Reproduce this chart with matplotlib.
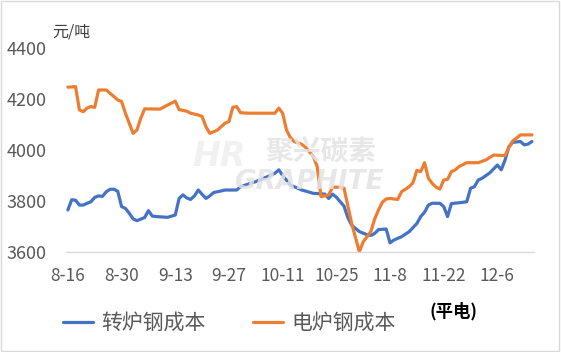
import pandas as pd
import matplotlib
matplotlib.use("Agg")
import matplotlib.pyplot as plt
from matplotlib.patches import Rectangle

plt.rcParams['font.family'] = ['Noto Sans CJK SC', 'DejaVu Sans']

# ---------------------------------
# Data (yuan / ton)
# ---------------------------------
year = "2021"

bof_dates = [
    "08-16", "08-17", "08-18", "08-19", "08-20", "08-21", "08-22", "08-23", "08-24", "08-25",
    "08-26", "08-27", "08-28", "08-29", "08-30", "08-31",
    "09-01", "09-02", "09-03", "09-05", "09-06", "09-07", "09-08", "09-11", "09-13", "09-14",
    "09-15", "09-16", "09-17", "09-18", "09-19", "09-20", "09-21", "09-22", "09-23", "09-26",
    "09-29", "09-30",
    "10-04", "10-07", "10-09", "10-10", "10-11", "10-13", "10-14", "10-16", "10-19", "10-22",
    "10-23", "10-24", "10-25", "10-26", "10-27", "10-28", "10-29", "10-31",
    "11-02", "11-03", "11-04", "11-05", "11-07", "11-08", "11-09", "11-11", "11-13", "11-15",
    "11-16", "11-17", "11-18", "11-19", "11-21", "11-22", "11-23", "11-24", "11-26", "11-28",
    "11-29", "11-30",
    "12-01", "12-02", "12-04", "12-06", "12-07", "12-08", "12-09", "12-10", "12-12", "12-13",
    "12-14", "12-15",
]
bof_cost = [
    3765, 3805, 3803, 3784, 3784, 3791, 3797, 3814, 3820, 3818,
    3836, 3846, 3846, 3838, 3778, 3771,
    3752, 3730, 3723, 3735, 3762, 3741, 3739, 3736, 3745, 3810,
    3824, 3812, 3806, 3820, 3843, 3826, 3810, 3820, 3833, 3843,
    3843, 3856,
    3876, 3895, 3909, 3922, 3900, 3863, 3856, 3843, 3830, 3827,
    3810, 3827, 3815, 3797, 3780, 3735, 3705, 3680,
    3668, 3665, 3673, 3688, 3690, 3636, 3647, 3660, 3680, 3712,
    3739, 3756, 3784, 3791, 3791, 3778, 3739, 3790, 3793, 3797,
    3850, 3856,
    3882, 3889, 3910, 3941, 3922, 3961, 4013, 4030, 4033, 4020,
    4023, 4033,
]

eaf_dates = [
    "08-16", "08-18", "08-19", "08-20", "08-21", "08-22", "08-23", "08-24", "08-26", "08-27",
    "08-29", "08-30", "08-31",
    "09-02", "09-03", "09-04", "09-05", "09-09", "09-11", "09-13", "09-14", "09-16", "09-17",
    "09-19", "09-20", "09-21", "09-22", "09-24", "09-26", "09-27", "09-28", "09-29", "09-30",
    "10-02", "10-09", "10-10", "10-11", "10-12", "10-13", "10-14", "10-16", "10-17", "10-19",
    "10-20", "10-21", "10-23", "10-24", "10-26", "10-27", "10-29", "10-31",
    "11-01", "11-02", "11-03", "11-04", "11-05", "11-06", "11-07", "11-08", "11-10", "11-11",
    "11-13", "11-14", "11-15", "11-16", "11-17", "11-18", "11-19", "11-20", "11-21", "11-22",
    "11-23", "11-24", "11-25", "11-26", "11-28",
    "12-01", "12-03", "12-05", "12-08", "12-09", "12-10", "12-12", "12-15",
]
eaf_cost = [
    4246, 4248, 4157, 4150, 4164, 4170, 4167, 4235, 4235, 4222,
    4196, 4190, 4144,
    4065, 4078, 4124, 4161, 4160, 4176, 4191, 4158, 4152, 4144,
    4137, 4131, 4091, 4065, 4078, 4105, 4111, 4167, 4170, 4146,
    4144, 4144, 4164, 4144, 4078, 4049, 4033, 4022, 4010, 3974,
    3935, 3817, 3824, 3854, 3854, 3850, 3712, 3601,
    3640, 3660, 3680, 3730, 3765, 3795, 3808, 3810, 3806, 3836,
    3856, 3872, 3920, 3915, 3950, 3889, 3869, 3854, 3847, 3882,
    3885, 3915, 3922, 3935, 3950,
    3950, 3961, 3980, 3978, 4010, 4035, 4059, 4059,
]

tick_labels = ["8-16", "8-30", "9-13", "9-27", "10-11", "10-25", "11-8", "11-22", "12-6"]
y_ticks = [3600, 3800, 4000, 4200, 4400]

bof_x = pd.to_datetime([year + "-" + d for d in bof_dates])
eaf_x = pd.to_datetime([year + "-" + d for d in eaf_dates])
tick_x = pd.to_datetime([year + "-" + t for t in tick_labels])

# ---------------------------------
# Figure
# ---------------------------------
fig = plt.figure(figsize=(5.61, 3.52), dpi=100)
ax = fig.add_axes([0.1176, 0.284, 0.834, 0.58])

blue = "#4472C4"
orange = "#ED7D31"

ax.plot(bof_x, bof_cost, color=blue, lw=2.3, solid_joinstyle="round",
        solid_capstyle="round", label="转炉钢成本", zorder=2)
ax.plot(eaf_x, eaf_cost, color=orange, lw=2.3, solid_joinstyle="round",
        solid_capstyle="round", label="电炉钢成本", zorder=2)

ax.set_xlim(bof_x[0] - pd.Timedelta(hours=12), bof_x[-1] + pd.Timedelta(hours=12))
ax.set_ylim(3600, 4400)
ax.set_yticks(y_ticks)
ax.set_xticks(tick_x)
ax.set_xticklabels(tick_labels)

for s in ["top", "right", "left"]:
    ax.spines[s].set_visible(False)
ax.spines["bottom"].set_color("#d9d9d9")
ax.spines["bottom"].set_linewidth(1.0)
ax.tick_params(axis="both", length=0, colors="#595959")
ax.tick_params(axis="y", pad=14, labelsize=13)
ax.tick_params(axis="x", pad=11, labelsize=12.5)

# unit label
fig.text(0.094, 0.885, "元/吨", fontsize=11.5, color="#404040", va="bottom")

# watermark
ax.text(0.425, 0.45, "聚兴碳素", transform=ax.transAxes, fontsize=20, fontweight="bold",
        color="#e3e3e3", alpha=0.85, zorder=3)
ax.text(0.36, 0.31, "GRAPHITE", transform=ax.transAxes, fontsize=19, fontweight="bold",
        style="italic", family="DejaVu Sans", color="#e3e3e3", alpha=0.85, zorder=3)
ax.text(0.27, 0.42, "HR", transform=ax.transAxes, fontsize=24, fontweight="bold",
        style="italic", family="DejaVu Sans", color="#ececec", alpha=0.7, zorder=3)

# legend
leg = fig.legend(loc="center left", bbox_to_anchor=(0.112, 0.082), ncol=2, frameon=False,
                 fontsize=15, handlelength=1.45, columnspacing=2.3, handletextpad=0.38,
                 borderpad=0, borderaxespad=0)
for t in leg.get_texts():
    t.set_color("#595959")

fig.text(0.765, 0.1, "(平电)", fontsize=12.5, fontweight="bold", color="black")

# chart border
fig.patches.append(Rectangle((0.002, 0.003), 0.995, 0.993, transform=fig.transFigure,
                             fill=False, edgecolor="#d9d9d9", lw=1.0))

fig.savefig("out.png", dpi=100)
